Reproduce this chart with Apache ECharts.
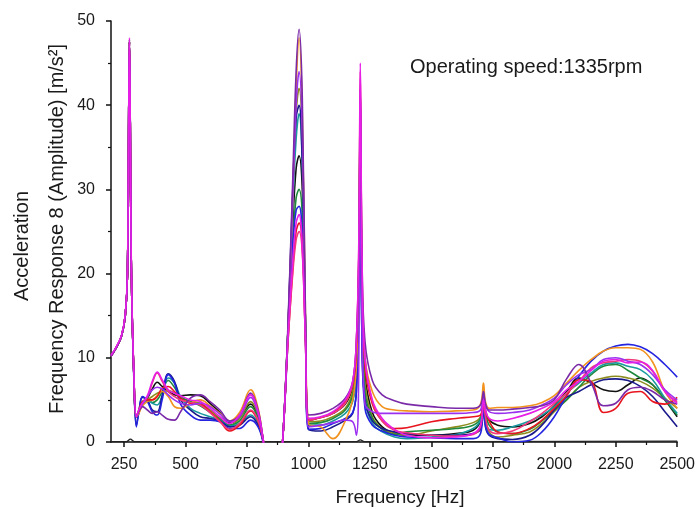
<!DOCTYPE html>
<html><head><meta charset="utf-8">
<script src="https://cdn.jsdelivr.net/npm/echarts@6/dist/echarts.min.js"></script>
<style>html,body{margin:0;padding:0;background:#fff}#c{width:698px;height:509px}</style>
</head><body><div id="c"></div>
<script>
const freq = [197,220,240,255,264,272,280,290,
 300,310,325,345,365,385,405,430,455,480,
 520,560,600,640,680,720,765,795,815,
 840,880,895,915,935,950,962,975,988,1000,
 1050,1100,1150,1180,1195,1205,1211,1218,1230,1260,
 1300,1350,1400,1500,1600,1670,1700,1712,1720,1735,
 1770,1830,1900,1950,2000,2050,2100,2150,2200,2250,
 2300,2350,2400,2450,2500];

const sBlack = [10.2,11.3,12.6,15,20,47.8,20,8,
 3.0,3.6,4.5,5.2,6.3,7.1,6.6,6.0,5.6,5.5,
 5.6,5.5,4.6,3.5,2.3,2.9,4.5,3.0,0.5,
 -4,-4,0,12,25,32.5,34,30,14,2.6,
 2.9,3.4,4.5,6.5,10,20,38,18,8,3.5,
 1.8,1.0,0.8,0.8,1.0,1.4,2.5,4.8,3.5,2.6,
 2.0,1.8,2.2,3.0,4.3,6.0,7.6,7.0,6.2,6.0,
 6.8,7.6,6.8,5.0,3.0];
const sRed = [10.2,11.3,12.6,15,20,47.5,20,8,
 3.0,3.8,4.8,5.0,5.0,5.4,6.4,6.6,6.0,5.2,
 4.6,4.5,3.6,2.5,1.3,2.0,3.7,2.5,0.3,
 -4,-4,0,11,20,25,26,23.5,12,2.6,
 2.9,3.5,4.8,6.8,11,22,42,20,9,4.5,
 2.5,1.6,1.7,2.4,2.8,3.0,3.2,4.5,3.8,2.5,
 1.2,1.0,1.6,2.6,4.0,5.5,7.4,7.2,3.5,4.0,
 5.8,6.0,4.8,4.5,5.3];
const sBlue = [10.2,11.3,12.6,15,20,47.5,20,7.5,
 1.8,3.5,5.4,4.8,3.6,3.2,5.0,8.0,7.0,4.5,
 3.2,2.6,2.6,2.4,1.6,1.6,2.6,1.8,0.0,
 -4,-4,0,11,23,27.5,28,24.5,12,1.5,
 1.6,2.2,2.8,3.5,6,18,35,12,4.0,2.0,
 1.3,0.8,0.6,0.5,0.4,0.4,1.0,4.0,2.0,0.9,
 0.5,0.0,0.2,1.2,3.0,5.5,7.8,9.6,10.8,11.4,
 11.6,11.3,10.5,9.2,7.7];
const sGreen = [10.2,11.3,12.6,15,20,47.5,20,8,
 3.0,3.6,4.8,5.0,4.7,5.0,6.0,7.3,6.5,5.4,
 4.8,4.3,3.5,2.7,2.0,2.5,4.2,2.8,0.3,
 -4,-4,0,12,23,29,30,27,13,2.2,
 2.3,2.8,3.8,5.5,9,20,40,16,6,2.8,
 1.5,0.9,1.2,1.4,1.6,2.0,2.8,4.8,3.5,2.0,
 1.2,1.0,1.5,2.5,3.8,5.0,6.5,8.0,9.0,9.2,
 8.5,7.6,6.8,5.0,3.2];
const sOrange = [10.2,11.3,12.6,15,20,47.5,20,8,
 3.0,3.4,4.3,4.8,5.0,5.5,6.0,5.4,4.2,4.0,
 4.6,5.0,4.3,3.4,2.5,3.5,6.2,4.0,0.5,
 -4,-4,0,12,28,42,48,39,15,2.2,
 1.8,0.4,2.5,5.0,9,20,40,19,10,6.0,
 4.2,3.8,3.7,3.6,3.7,3.8,4.5,7.0,4.8,4.0,
 4.1,4.1,4.3,4.7,5.5,7.0,8.5,9.8,10.8,11.2,
 11.2,11.0,9.5,6.0,4.0];
const sPurple = [10.2,11.3,12.6,15,20,47.5,20,8,
 3.0,3.6,4.2,3.8,3.4,3.6,3.2,2.7,2.6,3.6,
 5.2,5.6,4.8,3.8,2.5,3.2,5.8,3.8,0.5,
 -4,-4,0,12.5,30,44,49,41,15,3.2,
 3.4,4.0,5.2,7.2,12,22,42,22,12,7.3,
 5.6,4.9,4.5,4.2,4.0,4.0,4.4,6.0,4.5,3.8,
 3.8,3.9,4.1,4.3,5.0,7.5,9.2,7.0,4.3,4.6,
 6.2,6.5,6.0,5.0,4.5];
const sNavy = [10.2,11.3,12.6,15,20,47.5,20,7.8,
 2.0,3.5,5.3,5.0,3.8,3.6,5.5,8.1,7.2,5.0,
 3.8,3.0,2.8,2.5,1.8,2.0,3.0,2.0,0.2,
 -4,-4,0,12,29,38.5,40,33,14,1.5,
 1.3,1.8,2.6,3.4,6,16,33,12,5,2.5,
 1.6,1.2,1.0,0.8,0.8,1.0,1.5,4.5,1.8,0.8,
 0.4,0.3,0.8,2.0,3.8,5.3,6.0,6.8,7.4,7.5,
 7.3,6.6,5.4,3.6,1.8];
const sOlive = [10.2,11.3,12.6,15,20,47.5,20,8,
 3.0,3.5,4.5,5.0,5.4,5.8,6.0,6.1,5.8,5.3,
 4.8,4.6,3.8,2.8,2.0,2.8,4.8,3.2,0.4,
 -4,-4,0,12,27,39,42,36,14,2.4,
 2.5,3.0,4.0,6.0,10,21,40,17,7,3.0,
 1.6,1.0,0.8,1.3,1.8,2.3,3.0,5.0,3.0,1.2,
 0.6,0.8,1.2,2.2,3.6,5.0,6.5,7.2,7.6,7.8,
 7.6,7.2,6.4,5.2,4.0];
const sTeal = [10.2,11.3,12.6,15,20,47.5,20,8,
 3.0,3.6,4.4,5.0,4.6,4.4,5.5,7.6,7.0,5.4,
 4.0,3.4,3.0,2.6,1.9,2.2,3.2,2.2,0.2,
 -4,-4,0,12,27,36,39,33,14,2.0,
 2.0,2.5,3.4,4.8,8,18,36,14,5,2.2,
 1.2,0.6,0.4,0.6,0.9,1.6,2.6,4.6,2.8,1.5,
 1.4,1.8,2.5,3.2,4.2,5.8,7.0,8.2,9.2,9.4,
 9.0,8.6,7.4,5.2,3.4];
const sViolet = [10.2,11.3,12.6,15,20,47.5,20,8,
 3.0,3.7,4.5,5.4,6.2,6.5,6.3,5.6,5.0,4.6,
 4.4,4.6,4.2,3.3,2.4,3.0,5.3,3.4,0.4,
 -4,-4,0,12,28,40,44,37,14,1.8,
 2.0,2.3,2.6,2.4,0.8,10,40,14,4.5,3.6,
 3.4,3.4,3.4,3.4,3.4,3.5,3.8,5.6,4.5,3.6,
 3.4,3.5,3.8,4.4,5.2,6.8,8.0,8.6,9.8,10.0,
 9.6,9.2,8.0,6.2,5.0];
const sPink = [10.2,11.3,12.6,15,20,47.5,20,8,
 3.0,3.7,4.6,5.3,7.0,8.2,7.2,6.0,5.4,5.0,
 4.7,4.4,3.5,2.4,1.5,2.2,3.8,2.6,0.3,
 -4,-4,0,11,19.5,24,25,22.5,12,2.6,
 2.9,3.4,4.6,7.0,12,23,44,21,10,4.8,
 2.5,1.4,1.1,0.8,0.7,0.9,1.8,5.0,3.0,1.4,
 1.0,1.3,2.4,3.4,4.6,5.8,7.2,8.8,9.4,9.6,
 9.8,9.6,8.4,6.0,4.8];
const sMagenta = [10.3,11.4,12.7,15.2,20.5,48,20.5,8.2,
 3.0,3.8,4.6,5.5,7.2,8.3,7.4,6.2,5.8,5.5,
 5.0,4.8,4.0,3.0,2.2,3.2,5.6,3.6,0.5,
 -4,-4,0,11.5,21,26,27,23,12,2.8,
 3.0,3.6,5.0,7.2,12,24,45,22,10,5.0,
 2.8,1.5,0.8,0.5,0.6,1.0,2.0,5.0,3.8,2.8,
 2.5,2.8,3.4,4.0,4.8,6.2,7.2,8.5,9.6,9.8,
 9.4,9.5,8.5,6.0,4.6];
const zeroFreq = [197,260,276,292,1195,1211,1228,2500];
const zeroVals = [0.05,0.05,0.35,0.05,0.05,0.25,0.05,0.1];

const xMajor = [250,500,750,1000,1250,1500,1750,2000,2250,2500];
const xMinor = [375,625,875,1125,1375,1625,1875,2125,2375];

const seriesDefs = [
  ['black', '#111111', sBlack],
  ['olive', '#8c8c1e', sOlive],
  ['green', '#1f8a3c', sGreen],
  ['teal', '#1a9aa0', sTeal],
  ['navy', '#1a1a8c', sNavy],
  ['blue', '#2424e0', sBlue],
  ['orange', '#f2921e', sOrange],
  ['red', '#e8141e', sRed],
  ['pink', '#f2387a', sPink],
  ['violet', '#9a30f0', sViolet],
  ['purple', '#7a2aa8', sPurple],
  ['magenta', '#e61ee6', sMagenta]
];

const series = seriesDefs.map(([name, color, vals]) => ({
  name, type: 'line', xAxisIndex: 0, yAxisIndex: 0,
  data: freq.map((f, i) => [f, vals[i]]),
  smooth: 0.4, showSymbol: false, clip: true,
  lineStyle: { color, width: 1.6 }, silent: true
}));
series.unshift({
  name: 'zero', type: 'line', data: zeroFreq.map((f, i) => [f, zeroVals[i]]),
  smooth: 0.4, showSymbol: false, lineStyle: { color: '#222', width: 1.2 }, silent: true
});

const chart = echarts.init(document.getElementById('c'), null, { renderer: 'canvas' });
const axisFont = { fontFamily: 'Liberation Sans, Arial, sans-serif', fontSize: 16, color: '#1a1a1a' };
const plain = v => String(v);
chart.setOption({
  animation: false,
  backgroundColor: '#fff',
  grid: { left: 111, right: 19, top: 21, bottom: 67 },
  xAxis: [{
    type: 'value', min: 197, max: 2500,
    axisLine: { show: true, lineStyle: { color: '#111', width: 1.5 } },
    axisTick: { show: true, length: 5, lineStyle: { color: '#111', width: 1.5 }, customValues: xMajor },
    axisLabel: Object.assign({ margin: 15, customValues: xMajor, formatter: plain }, axisFont),
    splitLine: { show: false }
  }, {
    type: 'value', min: 197, max: 2500, position: 'bottom',
    axisLine: { show: false },
    axisTick: { show: true, length: 3, lineStyle: { color: '#111', width: 1.2 }, customValues: xMinor },
    axisLabel: { show: false },
    splitLine: { show: false }
  }],
  yAxis: {
    type: 'value', min: 0, max: 50, interval: 10,
    axisLine: { show: true, lineStyle: { color: '#111', width: 1.5 } },
    axisTick: { show: true, length: 5, lineStyle: { color: '#111', width: 1.5 } },
    minorTick: { show: true, splitNumber: 2, length: 3, lineStyle: { color: '#111', width: 1.2 } },
    axisLabel: Object.assign({ margin: 16, formatter: plain }, axisFont),
    splitLine: { show: false }
  },
  graphic: [
    { type: 'text', x: 410, y: 67, style: { text: 'Operating speed:1335rpm', font: '20px "Liberation Sans", Arial, sans-serif', fill: '#1a1a1a', textAlign: 'left', textVerticalAlign: 'middle' } },
    { type: 'text', x: 400, y: 498, style: { text: 'Frequency [Hz]', font: '19px "Liberation Sans", Arial, sans-serif', fill: '#1a1a1a', textAlign: 'center', textVerticalAlign: 'middle' } },
    { type: 'text', x: 22, y: 246, rotation: Math.PI / 2, style: { text: 'Acceleration', font: '20px "Liberation Sans", Arial, sans-serif', fill: '#1a1a1a', textAlign: 'center', textVerticalAlign: 'middle' } },
    { type: 'text', x: 57, y: 229, rotation: Math.PI / 2, style: { text: 'Frequency Response 8 (Amplitude) [m/s²]', font: '20px "Liberation Sans", Arial, sans-serif', fill: '#1a1a1a', textAlign: 'center', textVerticalAlign: 'middle' } }
  ],
  series
});
</script></body></html>
